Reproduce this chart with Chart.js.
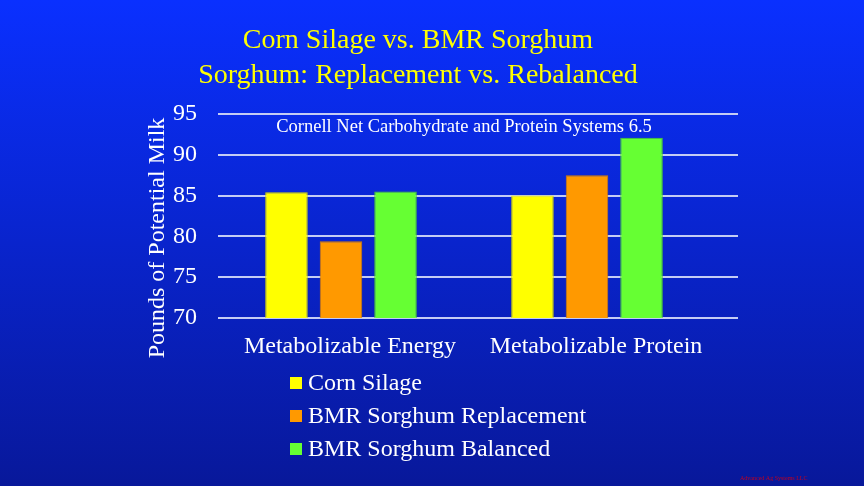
<!DOCTYPE html>
<html>
<head>
<meta charset="utf-8">
<title>Corn Silage vs. BMR Sorghum</title>
<script src="https://cdn.jsdelivr.net/npm/chart.js@4.4.1/dist/chart.umd.min.js"></script>
<style>
  html, body { margin: 0; padding: 0; background: #0a1a9a; }
  canvas { display: block; }
</style>
</head>
<body>
<canvas id="milkChart" width="864" height="486"></canvas>
<script>
const categories = ['Metabolizable Energy', 'Metabolizable Protein'];
const seriesNames = ['Corn Silage', 'BMR Sorghum Replacement', 'BMR Sorghum Balanced'];
const cornSilage = [85.4, 85.0];
const bmrReplacement = [79.4, 87.5];
const bmrBalanced = [85.5, 92.1];
const yTicks = [70, 75, 80, 85, 90, 95];

const colors = ['#ffff00', '#ff9900', '#66ff33'];
const borders = ['#d8d800', '#d87f00', '#4fcf28'];
const serif = '"Liberation Serif", "Times New Roman", serif';

// background gradient
const backgroundPlugin = {
    id: 'background',
    beforeDraw(chart) {
        const c = chart.ctx;
        const g = c.createLinearGradient(0, 0, 0, chart.height);
        g.addColorStop(0, '#0a30ff');
        g.addColorStop(1, '#08189a');
        c.save();
        c.fillStyle = g;
        c.fillRect(0, 0, chart.width, chart.height);
        c.restore();
    }
};

// horizontal grid lines run a bit past the bars, like the slide
const gridPlugin = {
    id: 'extendedGrid',
    beforeDatasetsDraw(chart) {
        const c = chart.ctx;
        const area = chart.chartArea;
        const y = chart.scales.y;
        c.save();
        c.strokeStyle = '#c4ccf4';
        c.lineWidth = 2;
        y.ticks.forEach(t => {
            const py = Math.round(y.getPixelForValue(t.value));
            c.beginPath();
            c.moveTo(area.left, py);
            c.lineTo(area.right + 28, py);
            c.stroke();
        });
        c.restore();
    }
};

const textPlugin = {
    id: 'slideText',
    afterDraw(chart) {
        const c = chart.ctx;
        c.save();
        c.textAlign = 'center';
        c.textBaseline = 'alphabetic';

        c.fillStyle = '#ffff00';
        c.font = '28px ' + serif;
        c.fillText('Corn Silage vs. BMR Sorghum', 418, 48);
        c.fillText('Sorghum: Replacement vs. Rebalanced', 418, 83);

        c.fillStyle = '#ffffff';
        c.font = '18.5px ' + serif;
        c.fillText('Cornell Net Carbohydrate and Protein Systems 6.5', 464, 132);

        // y axis title
        c.save();
        c.translate(158, 238);
        c.rotate(-Math.PI / 2);
        c.font = '24px ' + serif;
        c.textBaseline = 'middle';
        c.fillText('Pounds of Potential Milk', 0, 0);
        c.restore();

        // legend, one item per row
        c.textAlign = 'left';
        c.textBaseline = 'middle';
        c.font = '24px ' + serif;
        chart.data.datasets.forEach((ds, i) => {
            const ry = 383 + i * 33;
            c.fillStyle = ds.backgroundColor;
            c.fillRect(290, ry - 6, 12, 12);
            c.fillStyle = '#ffffff';
            c.fillText(ds.label, 308, ry + 1);
        });

        c.fillStyle = '#c00020';
        c.font = '6px ' + serif;
        c.textAlign = 'left';
        c.fillText('Advanced Ag Systems LLC', 740, 478);
        c.restore();
    }
};

const values = [cornSilage, bmrReplacement, bmrBalanced];

new Chart(document.getElementById('milkChart'), {
    type: 'bar',
    data: {
        labels: categories,
        datasets: seriesNames.map((name, i) => ({
            label: name,
            data: values[i],
            backgroundColor: colors[i],
            borderColor: borders[i],
            borderWidth: 1,
            barPercentage: 0.78,
            categoryPercentage: 0.665
        }))
    },
    options: {
        responsive: false,
        animation: false,
        devicePixelRatio: 1,
        layout: { padding: { left: 158, right: 154, top: 114, bottom: 118 } },
        plugins: {
            legend: { display: false },
            title: { display: false },
            tooltip: { enabled: false }
        },
        scales: {
            x: {
                grid: { display: false, drawTicks: false },
                border: { display: false },
                afterFit: s => { s.height = 50; },
                ticks: {
                    color: '#ffffff',
                    font: { family: serif, size: 24 },
                    padding: 14,
                    labelOffset: 9,
                    maxRotation: 0
                }
            },
            y: {
                min: 70,
                max: 95,
                afterFit: s => { s.width = 60; },
                afterBuildTicks: s => { s.ticks = yTicks.map(v => ({ value: v })); },
                grid: { display: false, drawTicks: false },
                border: { display: false },
                ticks: {
                    color: '#ffffff',
                    font: { family: serif, size: 24 },
                    padding: 21
                }
            }
        }
    },
    plugins: [backgroundPlugin, gridPlugin, textPlugin]
});
</script>
</body>
</html>
